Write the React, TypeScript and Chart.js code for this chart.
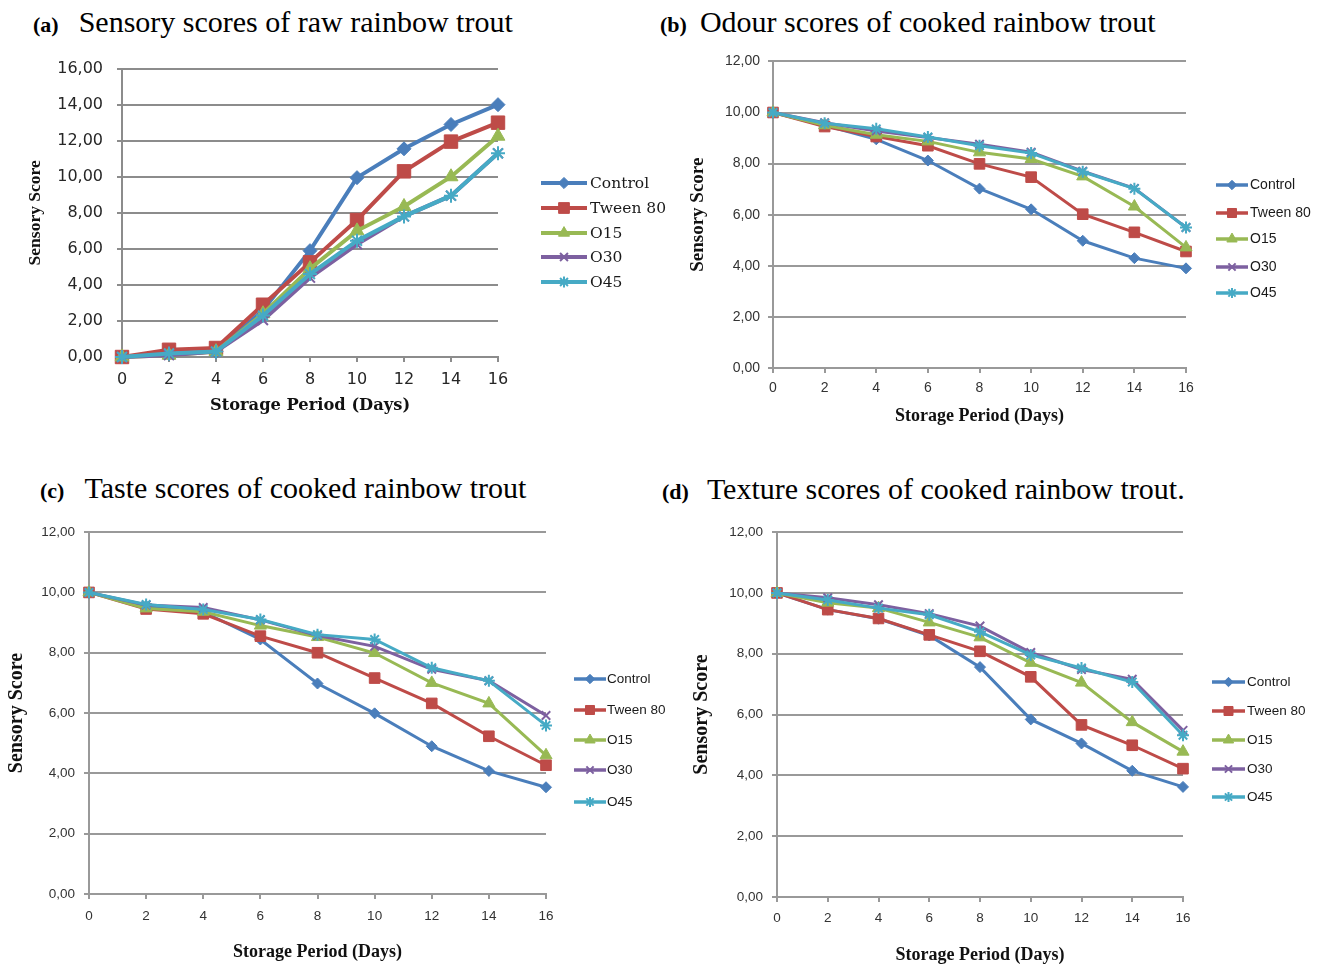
import React, { useEffect, useRef } from 'react';
import { Chart, registerables } from 'chart.js';
import { drawPoint } from 'chart.js/helpers';

Chart.register(...registerables);

// ---------- data ----------
const days = ['0', '2', '4', '6', '8', '10', '12', '14', '16'];
const seriesNames = ['Control', 'Tween 80', 'O15', 'O30', 'O45'];
const seriesColors = ['#4A7EBB', '#BE4B48', '#98B954', '#7D60A0', '#46AAC5'];
const pointStyles = ['rectRot', 'rect', 'triangle', 'crossRot', 'star'];

// (a) raw sensory scores
const rawControl = [0, 0.2, 0.3, 2.6, 5.9, 9.95, 11.55, 12.9, 14.0];
const rawTween = [0, 0.4, 0.5, 2.9, 5.25, 7.6, 10.3, 11.95, 13.0];
const rawO15 = [0, 0.1, 0.3, 2.4, 4.9, 7.0, 8.35, 10.0, 12.25];
const rawO30 = [0, 0.1, 0.3, 2.05, 4.4, 6.25, 7.8, 8.95, 11.3];
const rawO45 = [0, 0.2, 0.3, 2.3, 4.6, 6.45, 7.8, 8.95, 11.3];

// (b) odour
const odourControl = [10, 9.5, 8.95, 8.12, 7.02, 6.21, 4.98, 4.3, 3.9];
const odourTween = [10, 9.45, 9.06, 8.7, 7.99, 7.47, 6.02, 5.31, 4.56];
const odourO15 = [10, 9.5, 9.13, 8.87, 8.44, 8.18, 7.5, 6.32, 4.72];
const odourO30 = [10, 9.6, 9.28, 9.02, 8.76, 8.45, 7.7, 7.03, 5.5];
const odourO45 = [10, 9.58, 9.36, 9.04, 8.7, 8.41, 7.68, 7.02, 5.5];

// (c) taste
const tasteControl = [10, 9.55, 9.35, 8.44, 6.98, 5.99, 4.9, 4.08, 3.54];
const tasteTween = [10, 9.45, 9.29, 8.55, 8.0, 7.16, 6.32, 5.23, 4.27];
const tasteO15 = [10, 9.47, 9.36, 8.9, 8.52, 7.99, 7.0, 6.32, 4.6];
const tasteO30 = [10, 9.58, 9.5, 9.09, 8.57, 8.21, 7.45, 7.07, 5.92];
const tasteO45 = [10, 9.6, 9.43, 9.1, 8.6, 8.44, 7.5, 7.07, 5.59];

// (d) texture
const textureControl = [10, 9.45, 9.15, 8.6, 7.56, 5.84, 5.05, 4.15, 3.62];
const textureTween = [10, 9.45, 9.16, 8.62, 8.08, 7.24, 5.66, 4.99, 4.22];
const textureO15 = [10, 9.68, 9.5, 9.03, 8.54, 7.7, 7.05, 5.75, 4.78];
const textureO30 = [10, 9.84, 9.61, 9.32, 8.91, 8.04, 7.48, 7.16, 5.48];
const textureO45 = [10, 9.77, 9.5, 9.28, 8.72, 7.96, 7.53, 7.07, 5.32];

const panelLabels = ['(a)', '(b)', '(c)', '(d)'];
const panelTitles = [
  'Sensory scores of raw rainbow trout',
  'Odour scores of cooked rainbow trout',
  'Taste scores of cooked rainbow trout',
  'Texture scores of cooked rainbow trout.',
];
const xAxisTitle = 'Storage Period (Days)';
const yAxisTitle = 'Sensory Score';
const yMaxA = 16;
const yMaxOthers = 12;
const yStep = 2;

const fmtTick = (v: number | string) => Number(v).toFixed(2).replace('.', ',');

// ---------- layout ----------
type PanelCfg = {
  box: { left: number; top: number; width: number; height: number };
  area: { left: number; right: number; top: number; bottom: number };
  yMax: number;
  data: number[][];
  tickFamily: string;
  tickSize: number;
  tickColor: string;
  yTickRight: number;
  xTickY: number;
  xTitleFamily: string;
  xTitleSize: number;
  xTitleY: number;
  yTitleFamily: string;
  yTitleSize: number;
  yTitleX: number;
  legend: { x1: number; x2: number; textX: number; rows: number[]; family: string; size: number; lineWidth: number; pointScale: number };
  lineWidth: number;
  gridWidth: number;
  gridColor: string;
  radii: number[];
};

const SANS = "'Liberation Sans', Arial, sans-serif";
const SERIF = "'Liberation Serif', 'Times New Roman', serif";

const panels: PanelCfg[] = [
  {
    box: { left: 0, top: 45, width: 700, height: 385 },
    area: { left: 122, right: 498, top: 62, bottom: 357 },
    yMax: yMaxA,
    data: [rawControl, rawTween, rawO15, rawO30, rawO45],
    tickFamily: "'DejaVu Sans', sans-serif",
    tickSize: 16,
    tickColor: '#262626',
    yTickRight: 103,
    xTickY: 380,
    xTitleFamily: "'DejaVu Serif', serif",
    xTitleSize: 16.3,
    xTitleY: 406,
    yTitleFamily: SERIF,
    yTitleSize: 17.5,
    yTitleX: 35,
    legend: { x1: 541, x2: 587, textX: 590, rows: [183, 208, 233, 257, 282], family: "'DejaVu Serif', serif", size: 15.5, lineWidth: 4, pointScale: 0.8 },
    lineWidth: 4,
    gridWidth: 2,
    gridColor: '#8c8c8c',
    radii: [7, 9.5, 8, 7, 7],
  },
  {
    box: { left: 660, top: 45, width: 660, height: 395 },
    area: { left: 773, right: 1186, top: 60, bottom: 368 },
    yMax: yMaxOthers,
    data: [odourControl, odourTween, odourO15, odourO30, odourO45],
    tickFamily: SANS,
    tickSize: 14,
    tickColor: '#333333',
    yTickRight: 760,
    xTickY: 388,
    xTitleFamily: SERIF,
    xTitleSize: 18,
    xTitleY: 416,
    yTitleFamily: SERIF,
    yTitleSize: 19,
    yTitleX: 698,
    legend: { x1: 1216, x2: 1248, textX: 1250, rows: [185, 213, 239, 267, 293], family: SANS, size: 14, lineWidth: 3.5, pointScale: 0.85 },
    lineWidth: 3,
    gridWidth: 2,
    gridColor: '#999999',
    radii: [5.5, 7.5, 7, 6, 6],
  },
  {
    box: { left: 0, top: 515, width: 680, height: 449 },
    area: { left: 89, right: 546, top: 528, bottom: 894 },
    yMax: yMaxOthers,
    data: [tasteControl, tasteTween, tasteO15, tasteO30, tasteO45],
    tickFamily: SANS,
    tickSize: 13.5,
    tickColor: '#333333',
    yTickRight: 75,
    xTickY: 916,
    xTitleFamily: SERIF,
    xTitleSize: 18,
    xTitleY: 952,
    yTitleFamily: SERIF,
    yTitleSize: 20,
    yTitleX: 17,
    legend: { x1: 574, x2: 606, textX: 607, rows: [679, 710, 740, 770, 802], family: SANS, size: 13.5, lineWidth: 3.5, pointScale: 0.85 },
    lineWidth: 3,
    gridWidth: 2,
    gridColor: '#999999',
    radii: [5.5, 7.5, 7, 6, 6],
  },
  {
    box: { left: 660, top: 515, width: 660, height: 449 },
    area: { left: 777, right: 1183, top: 527, bottom: 897 },
    yMax: yMaxOthers,
    data: [textureControl, textureTween, textureO15, textureO30, textureO45],
    tickFamily: SANS,
    tickSize: 13.5,
    tickColor: '#333333',
    yTickRight: 763,
    xTickY: 918,
    xTitleFamily: SERIF,
    xTitleSize: 18,
    xTitleY: 955,
    yTitleFamily: SERIF,
    yTitleSize: 20,
    yTitleX: 702,
    legend: { x1: 1212, x2: 1245, textX: 1247, rows: [682, 711, 740, 769, 797], family: SANS, size: 13.5, lineWidth: 3.5, pointScale: 0.85 },
    lineWidth: 3,
    gridWidth: 2,
    gridColor: '#999999',
    radii: [5.5, 7.5, 7, 6, 6],
  },
];

const titleLayout = [
  { left: 33, baseline: 32, gap: 20 },
  { left: 660, baseline: 32, gap: 13 },
  { left: 40, baseline: 498, gap: 20 },
  { left: 662, baseline: 499, gap: 18 },
];

function Panel({ cfg }: { cfg: PanelCfg }) {
  const ref = useRef<HTMLCanvasElement | null>(null);
  useEffect(() => {
    const c = cfg;
    const TL = 5;
    const boxBottom = c.box.top + c.box.height;
    const legendPlugin = {
      id: 'excelLegend',
      afterDraw(chart: any) {
        const ctx = chart.ctx as CanvasRenderingContext2D;
        ctx.save();
        chart.data.datasets.forEach((ds: any, i: number) => {
          const y = c.legend.rows[i] - c.box.top;
          const x1 = c.legend.x1 - c.box.left;
          const x2 = c.legend.x2 - c.box.left;
          ctx.strokeStyle = ds.borderColor;
          ctx.lineWidth = c.legend.lineWidth;
          ctx.lineCap = 'butt';
          ctx.beginPath();
          ctx.moveTo(x1, y);
          ctx.lineTo(x2, y);
          ctx.stroke();
          ctx.fillStyle = ds.borderColor;
          ctx.strokeStyle = ds.borderColor;
          ctx.lineWidth = ds.pointBorderWidth;
          drawPoint(ctx, {
            pointStyle: ds.pointStyle,
            rotation: 0,
            radius: ds.pointRadius * c.legend.pointScale,
            borderWidth: ds.pointBorderWidth,
          } as any, (x1 + x2) / 2, y);
          ctx.fillStyle = '#1a1a1a';
          ctx.font = `${c.legend.size}px ${c.legend.family}`;
          ctx.textBaseline = 'middle';
          ctx.textAlign = 'left';
          ctx.fillText(seriesNames[i], c.legend.textX - c.box.left, y + 0.5);
        });
        ctx.restore();
      },
    };

    const datasets = c.data.map((vals, i) => ({
      label: seriesNames[i],
      data: vals,
      borderColor: seriesColors[i],
      backgroundColor: seriesColors[i],
      borderWidth: c.lineWidth,
      pointStyle: pointStyles[i],
      pointRadius: c.radii[i],
      pointHoverRadius: c.radii[i],
      pointBackgroundColor: seriesColors[i],
      pointBorderColor: seriesColors[i],
      pointBorderWidth: i >= 3 ? 2 : 1,
      tension: 0,
      clip: false as any,
      order: 5 - i,
    }));

    const xLH = c.xTitleSize * 1.2;
    const yLH = c.yTitleSize * 1.2;
    const tLH = c.tickSize * 1.2;

    const chart = new Chart(ref.current as HTMLCanvasElement, {
      type: 'line',
      data: { labels: days, datasets },
      plugins: [legendPlugin],
      options: {
        responsive: false,
        animation: false,
        events: [],
        layout: {
          padding: {
            left: 0,
            top: c.area.top - c.box.top,
            right: c.box.left + c.box.width - c.area.right,
            bottom: 0,
          },
        },
        plugins: {
          legend: { display: false },
          tooltip: { enabled: false },
          title: { display: false },
        },
        scales: {
          x: {
            type: 'category',
            offset: false,
            afterFit: (scale: any) => {
              scale.height = boxBottom - c.area.bottom;
            },
            grid: {
              drawOnChartArea: false,
              drawTicks: true,
              tickLength: TL,
              color: c.gridColor,
              lineWidth: c.gridWidth,
            },
            border: { display: true, color: c.gridColor, width: c.gridWidth },
            ticks: {
              autoSkip: false,
              maxRotation: 0,
              color: c.tickColor,
              font: { family: c.tickFamily, size: c.tickSize },
              padding: c.xTickY - c.area.bottom - TL - tLH / 2,
            },
            title: {
              display: true,
              text: xAxisTitle,
              color: '#111111',
              font: { family: c.xTitleFamily, size: c.xTitleSize, weight: 'bold' },
              padding: { top: 0, bottom: boxBottom - c.xTitleY - xLH / 2 },
            },
          },
          y: {
            type: 'linear',
            min: 0,
            max: c.yMax,
            afterFit: (scale: any) => {
              scale.width = c.area.left - c.box.left;
            },
            grid: {
              drawOnChartArea: true,
              drawTicks: true,
              tickLength: TL,
              color: c.gridColor,
              lineWidth: c.gridWidth,
            },
            border: { display: true, color: c.gridColor, width: c.gridWidth },
            ticks: {
              stepSize: yStep,
              color: c.tickColor,
              font: { family: c.tickFamily, size: c.tickSize },
              padding: c.area.left - c.yTickRight - TL,
              callback: (v: any) => fmtTick(v),
            },
            title: {
              display: true,
              text: yAxisTitle,
              color: '#111111',
              font: { family: c.yTitleFamily, size: c.yTitleSize, weight: 'bold' },
              padding: { top: c.yTitleX - c.box.left - yLH / 2, bottom: 0 },
            },
          },
        },
      } as any,
    });
    return () => chart.destroy();
  }, [cfg]);

  return (
    <canvas
      ref={ref}
      width={cfg.box.width}
      height={cfg.box.height}
      style={{ position: 'absolute', left: cfg.box.left, top: cfg.box.top }}
    />
  );
}

export default function App() {
  return (
    <div style={{ position: 'absolute', left: 0, top: 0, width: 1320, height: 964, background: '#ffffff', overflow: 'hidden' }}>
      {titleLayout.map((t, i) => (
        <div
          key={'t' + i}
          style={{
            position: 'absolute',
            left: t.left,
            top: t.baseline - 25,
            lineHeight: '30px',
            fontFamily: SERIF,
            fontSize: 30,
            color: '#000',
            whiteSpace: 'nowrap',
          }}
        >
          <span style={{ fontWeight: 'bold', fontSize: 22 }}>{panelLabels[i]}</span>
          <span style={{ marginLeft: t.gap }}>{panelTitles[i]}</span>
        </div>
      ))}
      {panels.map((p, i) => (
        <Panel key={'p' + i} cfg={p} />
      ))}
    </div>
  );
}
